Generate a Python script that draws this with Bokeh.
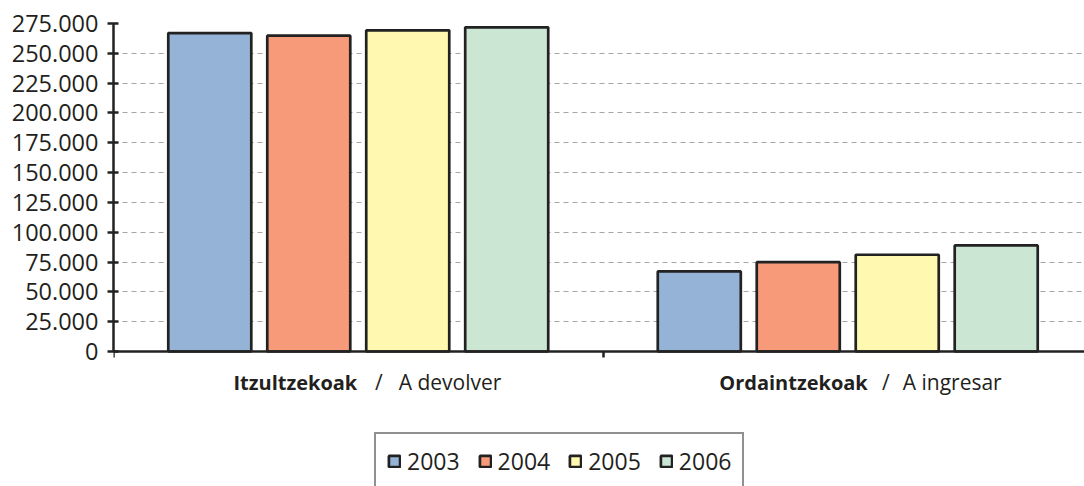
from bokeh.plotting import figure
from bokeh.models import (ColumnDataSource, Range1d, FixedTicker, Legend, LegendItem,
                          LabelSet)
from bokeh.core.properties import value
from bokeh.transform import dodge
from bokeh.embed import file_html
from bokeh.resources import INLINE

# ---- data ----
categories = ["Itzultzekoak", "Ordaintzekoak"]
categories_es = ["A devolver", "A ingresar"]
years = ["2003", "2004", "2005", "2006"]
v2003 = [267000, 67100]
v2004 = [264800, 74900]
v2005 = [269300, 81100]
v2006 = [271800, 88900]
y_ticks = [0, 25000, 50000, 75000, 100000, 125000, 150000, 175000,
           200000, 225000, 250000, 275000]
y_tick_labels = ["0", "25.000", "50.000", "75.000", "100.000", "125.000",
                 "150.000", "175.000", "200.000", "225.000", "250.000", "275.000"]
series = [v2003, v2004, v2005, v2006]

# ---- styles ----
colors = ["#95B3D7", "#F79A7A", "#FFF8B0", "#CCE6D4"]
FONT = "Open Sans"
TXT = "#231F20"
W, H = 1084, 486
LEFT, TOP = 113, 23
ZERO_PX = 351            # pixel row of the value axis origin
CAT_PX = 489.5           # pixel width of one category
y_max = y_ticks[-1]
px = y_max / (ZERO_PX - TOP)   # data units per pixel
y_start = -(H - ZERO_PX) * px
x_end = (W - LEFT) / CAT_PX

p = figure(width=W, height=H, x_range=Range1d(0, x_end), y_range=Range1d(y_start, y_max),
           output_backend="svg", toolbar_location=None,
           min_border_left=LEFT, min_border_right=0, min_border_top=TOP,
           min_border_bottom=0)
p.outline_line_color = None
p.background_fill_color = "white"
p.border_fill_color = "white"

centers = [i + 0.5 for i in range(len(categories))]
renderers = []
for j, (yr, vals) in enumerate(zip(years, series)):
    src = ColumnDataSource(dict(x=centers, top=vals))
    r = p.vbar(x=dodge("x", (j - 1.5) * 0.2022), top="top", bottom=0, width=0.1696,
               source=src, fill_color=colors[j], line_color="#222222", line_width=2.7)
    renderers.append(r)

# axes
ya = p.yaxis[0]
ya.ticker = FixedTicker(ticks=y_ticks)
ya.bounds = (0, y_max)
ya.major_label_overrides = {t: l for t, l in zip(y_ticks, y_tick_labels)}
ya.axis_line_color = "#222222"
ya.axis_line_width = 2.5
ya.major_tick_line_color = "#222222"
ya.major_tick_line_width = 2.5
ya.major_tick_in = 5
ya.major_tick_out = 6
ya.minor_tick_line_color = None
ya.major_label_standoff = 9
ya.major_label_text_font = FONT
ya.major_label_text_font_size = "23.5px"
ya.major_label_text_color = TXT

xa = p.xaxis[0]
xa.fixed_location = 0
xa.ticker = FixedTicker(ticks=[0, 1])
xa.axis_line_color = "#222222"
xa.axis_line_width = 2.5
xa.major_tick_line_color = "#222222"
xa.major_tick_line_width = 2.5
xa.major_tick_in = 0
xa.major_tick_out = 6
xa.minor_tick_line_color = None
xa.major_label_text_color = None
xa.major_label_text_font_size = "0px"

p.xgrid.grid_line_color = None
p.ygrid.ticker = FixedTicker(ticks=y_ticks)
p.ygrid.grid_line_color = "#A6A6A6"
p.ygrid.grid_line_dash = "5 4"
p.ygrid.grid_line_width = 1

# category labels
label_y = -38 * px
lsrc = ColumnDataSource(dict(x=centers, y=[label_y] * 2, bold=categories,
                             es=categories_es, slash=["/"] * 2,
                             bo=[-1, 20], so=[20.5, 38], eo=[40.5, 55]))
p.add_layout(LabelSet(x="x", y="y", text="bold", x_offset="bo", source=lsrc,
                      text_align="right", text_baseline="alphabetic",
                      text_font=value(FONT), text_font_style="bold",
                      text_font_size=value("20px"), text_color=TXT))
p.add_layout(LabelSet(x="x", y="y", text="slash", x_offset="so", source=lsrc,
                      text_align="center", text_baseline="alphabetic",
                      text_font=value(FONT), text_font_size=value("21px"), text_color=TXT))
p.add_layout(LabelSet(x="x", y="y", text="es", x_offset="eo", source=lsrc,
                      text_align="left", text_baseline="alphabetic",
                      text_font=value(FONT), text_font_size=value("21px"), text_color=TXT))

legend = Legend(items=[LegendItem(label=yr, renderers=[r]) for yr, r in zip(years, renderers)],
                orientation="horizontal", location=(261, -4),
                border_line_color="#222222", border_line_width=2,
                background_fill_color="white", background_fill_alpha=1,
                padding=11, spacing=18, margin=0,
                glyph_width=14, glyph_height=14, label_standoff=6,
                label_text_font=FONT, label_text_font_size="23px",
                label_text_color=TXT)
p.add_layout(legend, "center")

open("out.html", "w").write(file_html(p, INLINE))
